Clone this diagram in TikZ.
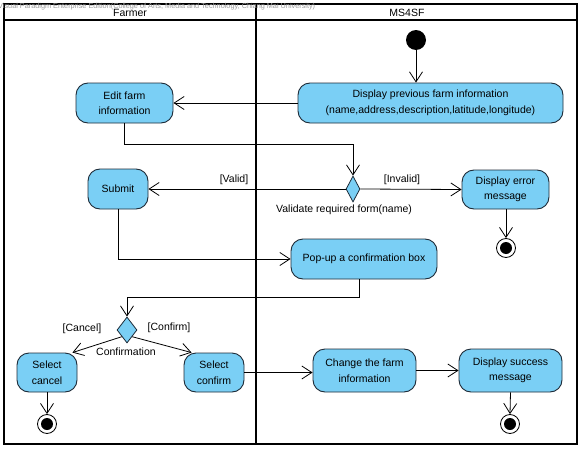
\documentclass[tikz,border=0pt]{standalone}
\usepackage{fontspec}
\setmainfont{Liberation Sans}
\usetikzlibrary{arrows.meta,shapes.geometric}
\definecolor{actfill}{HTML}{7ACFF5}
\definecolor{actdraw}{HTML}{1E2B38}
\definecolor{wmark}{HTML}{9A9A9A}
\begin{document}
\begin{tikzpicture}[x=1pt,y=-1pt,
  act/.style={draw=actdraw,fill=actfill,rounded corners=12pt,line width=0.9pt,align=center,font=\fontsize{10.5}{15.5}\selectfont,inner sep=0pt},
  dec/.style={diamond,draw=actdraw,fill=actfill,line width=0.8pt,inner sep=0pt},
  flow/.style={draw=black,line width=0.8pt,-{Straight Barb[length=10pt,width=13pt,line width=0.8pt]}},
  lbl/.style={font=\fontsize{10.5}{12}\selectfont,inner sep=0pt},
  initnode/.style={circle,fill=black,minimum size=20pt,inner sep=0pt},
  fin/.style={circle,draw=black,line width=0.8pt,fill=white,minimum size=19pt,inner sep=0pt,
     path picture={\fill[black] (path picture bounding box.center) circle (6pt);}},
  lane/.style={line width=1.6pt}]
\useasboundingbox (0,0) rectangle (582,450);
% swimlane frame
\draw[lane] (4,4) rectangle (577,444);
\draw[lane] (4,20) -- (577,20);
\draw[lane] (256,4) -- (256,444);
\node[wmark,anchor=west,inner sep=0pt,font=\fontsize{7.3}{8}\selectfont] (wm) at (-2,7) {Visual Paradigm Enterprise Edition(College of Arts, Media and Technology, Chiang Mai University)};
\node[lbl] (farmer) at (130,13) {Farmer};
\node[lbl] (ms) at (407,13) {MS4SF};
% nodes
\node[initnode] (init) at (416,40) {};
\node[act,minimum width=265pt,minimum height=40pt] (disp) at (430.5,103) {Display previous farm information\\(name,address,description,latitude,longitude)};
\node[act,minimum width=97pt,minimum height=40pt] (edit) at (124.5,103) {Edit farm\\information};
\node[dec,minimum width=14pt,minimum height=26pt] (val) at (353,189) {};
\node[act,minimum width=60pt,minimum height=40pt] (submit) at (118,189) {Submit};
\node[act,minimum width=87pt,minimum height=39pt] (err) at (505.5,189.5) {Display error\\message};
\node[fin] (f1) at (506,248) {};
\node[act,minimum width=146pt,minimum height=40pt] (popup) at (364,259) {Pop-up a confirmation box};
\node[dec,minimum width=20pt,minimum height=26pt] (conf) at (127,330) {};
\node[act,minimum width=60pt,minimum height=39pt] (cancel) at (47,372.5) {Select\\cancel};
\node[act,minimum width=60pt,minimum height=39pt] (confirm) at (214,372.5) {Select\\confirm};
\node[act,minimum width=103pt,minimum height=43pt] (change) at (364.5,370.5) {Change the farm\\information};
\node[act,minimum width=103pt,minimum height=43pt] (success) at (510.5,370.5) {Display success\\message};
\node[fin] (f2) at (47,424) {};
\node[fin] (f3) at (510,424) {};
% labels
\node[lbl] (lvalid) at (234,179.5) {[Valid]};
\node[lbl] (linvalid) at (402,179.5) {[Invalid]};
\node[lbl] (lval) at (344,210) {Validate required form(name)};
\node[lbl] (lcancel) at (82,328.5) {[Cancel]};
\node[lbl] (lconfirm) at (169,328) {[Confirm]};
\node[lbl] (lconf) at (126,352) {Confirmation};
% connectors
\draw[flow] (init) -- (init |- disp.north);
\draw[flow] (disp.west) -- (edit.east);
\draw[flow] (edit.south) -- ++(0,21) -| (val.north);
\draw[flow] (val.west) -- (submit.east);
\draw[flow] (val.east) -- (err.west);
\draw[flow] (err.south -| f1) -- (f1.north);
\draw[flow] (submit.south) |- (popup.west);
\draw[flow] ([xshift=-5pt]popup.south) -- ++(0,18) -| (conf.north);
\draw[flow] (conf.south west) -- ([xshift=-5pt]cancel.north east);
\draw[flow] (conf.south east) -- ([xshift=8pt]confirm.north west);
\draw[flow] (confirm.east) -- (confirm.east -| change.west);
\draw[flow] (change.east) -- (change.east -| success.west);
\draw[flow] (cancel.south) -- (f2.north);
\draw[flow] (success.south) -- (f3.north);
\end{tikzpicture}
\end{document}
